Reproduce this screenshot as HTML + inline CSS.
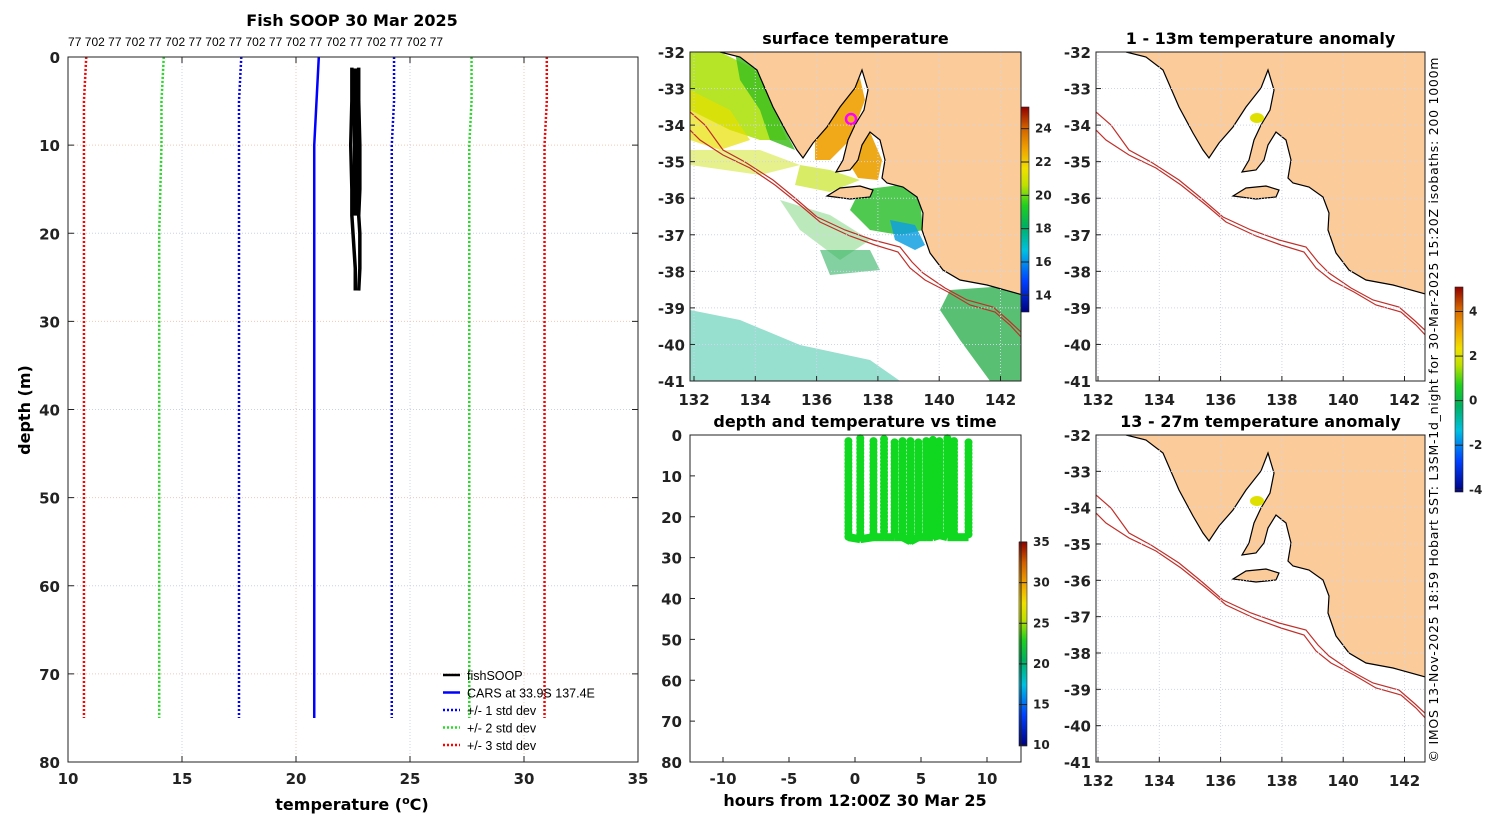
<!DOCTYPE html>
<html><head><meta charset="utf-8"><style>
html,body{margin:0;padding:0;background:#fff}
svg{display:block;font-family:"DejaVu Sans","Liberation Sans",sans-serif}
.t{font-weight:bold;font-size:15px;fill:#222}
.ti{font-weight:bold;font-size:16px;fill:#000}
</style></head><body>
<svg id="fig" width="1500" height="820" viewBox="0 0 1500 820" xmlns="http://www.w3.org/2000/svg">
<defs>
<linearGradient id="cmap" x1="0" y1="1" x2="0" y2="0">
<stop offset="0" stop-color="#00007f"/><stop offset="0.15" stop-color="#0040ff"/><stop offset="0.3" stop-color="#00c0e0"/>
<stop offset="0.42" stop-color="#00b060"/><stop offset="0.52" stop-color="#20d020"/><stop offset="0.62" stop-color="#c0e000"/>
<stop offset="0.7" stop-color="#f0e000"/><stop offset="0.8" stop-color="#f0a000"/><stop offset="0.9" stop-color="#d06000"/><stop offset="1" stop-color="#900000"/>
</linearGradient>
<clipPath id="c1"><rect x="690" y="52" width="331" height="329"/></clipPath>
<clipPath id="c2"><rect x="1096" y="52" width="329" height="329"/></clipPath>
<clipPath id="c3"><rect x="1096" y="435" width="329" height="327"/></clipPath>
<g id="land">
<path d="M720,52 L740,57 L757,70 L773,107 L787,133 L797,150 L803,158 L813,143 L827,127 L840,107 L855,88 L862,70 L868,90 L864,110 L855,125 L848,140 L843,160 L836,172 L850,170 L858,160 L862,145 L870,132 L880,140 L885,160 L882,178 L887,183 L903,187 L917,197 L923,213 L922,230 L930,253 L943,270 L960,280 L987,285 L1030,297 L1030,40 Z" fill="#fbcb9a" stroke="#000" stroke-width="1.2"/>
<path d="M827,196 L840,188 L860,186 L873,190 L870,197 L850,199 Z" fill="#fbcb9a" stroke="#000" stroke-width="1.2"/>
</g>
<g id="iso">
<polyline fill="none" stroke="#c0302a" stroke-width="1.2" points="690,112 705,125 723,150 745,162 773,180 795,198 817,217 845,230 873,240 900,247 912,262 923,273 945,288 967,300 993,307 1008,320 1022,333"/>
<polyline fill="none" stroke="#c0302a" stroke-width="1.2" points="690,130 700,140 723,155 750,168 775,185 800,205 820,222 850,236 875,245 898,252 910,268 925,280 948,292 970,305 995,312 1010,325 1022,338"/>
</g>
</defs>
<g id="root"></g>
</svg>
<script>
const NS="http://www.w3.org/2000/svg";
const root=document.getElementById('root');
function el(tag,attrs,parent,text){const e=document.createElementNS(NS,tag);for(const k in attrs)e.setAttribute(k,attrs[k]);if(text!==undefined)e.textContent=text;(parent||root).appendChild(e);return e;}

// ===== Left profile data =====
const profDepths=[0,5,10,20,30,40,50,60,70,75];
const carsTemp=[21.0,20.9,20.8,20.8,20.8,20.8,20.8,20.8,20.8,20.8];
const std1Lo=[17.6,17.5,17.5,17.5,17.5,17.5,17.5,17.5,17.5,17.5];
const std1Hi=[24.3,24.3,24.2,24.2,24.2,24.2,24.2,24.2,24.2,24.2];
const std2Lo=[14.2,14.1,14.1,14.0,14.0,14.0,14.0,14.0,14.0,14.0];
const std2Hi=[27.7,27.7,27.6,27.6,27.6,27.6,27.6,27.6,27.6,27.6];
const std3Lo=[10.8,10.7,10.7,10.7,10.7,10.7,10.7,10.7,10.7,10.7];
const std3Hi=[31.0,31.0,30.9,30.9,30.9,30.9,30.9,30.9,30.9,30.9];
const fishDepth=[1.2,5,10,15,18,20,22,24,26.5];
const fishTempA=[22.45,22.45,22.4,22.45,22.45,22.5,22.55,22.6,22.6];
const fishTempB=[22.75,22.75,22.8,22.8,22.75,22.8,22.8,22.8,22.75];
const xTicksL=[10,15,20,25,30,35];
const yTicksL=[0,10,20,30,40,50,60,70,80];

const LX0=68,LX1=638,LY0=57,LY1=762;
const lx=t=>LX0+(t-10)/25*(LX1-LX0);
const ly=d=>LY0+d/80*(LY1-LY0);
const gL=el('g',{});

el('rect',{x:LX0,y:LY0,width:LX1-LX0,height:LY1-LY0,fill:'#fff'},gL);
xTicksL.forEach((t,i)=>{if(i>0&&i<xTicksL.length-1)el('line',{x1:lx(t),x2:lx(t),y1:LY0,y2:LY1,stroke:i%2?'#c8d0f0':'#f0c8b8','stroke-dasharray':'1,2','stroke-width':1},gL);
 const tx=el('text',{x:lx(t),y:LY1+22,class:'t','text-anchor':'middle'},gL,t);
 el('line',{x1:lx(t),x2:lx(t),y1:LY1,y2:LY1-6,stroke:'#222'},gL);el('line',{x1:lx(t),x2:lx(t),y1:LY0,y2:LY0+6,stroke:'#222'},gL);});
yTicksL.forEach((d,i)=>{if(i>0&&i<yTicksL.length-1)el('line',{x1:LX0,x2:LX1,y1:ly(d),y2:ly(d),stroke:i%2?'#f0c8b8':'#c8d0f0','stroke-dasharray':'1,2'},gL);
 const tx=el('text',{x:LX0-8,y:ly(d)+6,class:'t','text-anchor':'end'},gL,d);
 el('line',{x1:LX0,x2:LX0+6,y1:ly(d),y2:ly(d),stroke:'#222'},gL);el('line',{x1:LX1,x2:LX1-6,y1:ly(d),y2:ly(d),stroke:'#222'},gL);});
function line(arrT,arrD,attrs,name){const p=el('polyline',Object.assign({fill:'none',points:arrT.map((t,i)=>lx(t)+','+ly(arrD[i])).join(' ')},attrs),gL);}
line(std3Lo,profDepths,{stroke:'#f00','stroke-width':2.5,'stroke-dasharray':'2,2'},'std3-low-line');
line(std3Hi,profDepths,{stroke:'#f00','stroke-width':2.5,'stroke-dasharray':'2,2'},'std3-high-line');
line(std2Lo,profDepths,{stroke:'#2d2','stroke-width':2.5,'stroke-dasharray':'2,2'},'std2-low-line');
line(std2Hi,profDepths,{stroke:'#2d2','stroke-width':2.5,'stroke-dasharray':'2,2'},'std2-high-line');
line(std1Lo,profDepths,{stroke:'#00f','stroke-width':2.5,'stroke-dasharray':'2,2'},'std1-low-line');
line(std1Hi,profDepths,{stroke:'#00f','stroke-width':2.5,'stroke-dasharray':'2,2'},'std1-high-line');
line(carsTemp,profDepths,{stroke:'#00f','stroke-width':2.5},'cars-line');
line(fishTempA,fishDepth,{stroke:'#000','stroke-width':3.5},'fishsoop-line-a');
line(fishTempB,fishDepth,{stroke:'#000','stroke-width':3.5},'fishsoop-line-b');
el('rect',{x:lx(22.5),y:ly(1.3),width:lx(22.8)-lx(22.5),height:ly(18)-ly(1.3),fill:'#000'},gL);
el('rect',{x:LX0,y:LY0,width:LX1-LX0,height:LY1-LY0,fill:'none',stroke:'#222'},gL);
const tL=el('text',{x:352,y:26,class:'ti','text-anchor':'middle'},gL,'Fish SOOP 30 Mar 2025');
const topLab=el('text',{x:68,y:46,'font-size':'12','textLength':'375','font-family':'Liberation Sans, sans-serif',fill:'#000'},gL,'77 702 77 702 77 702 77 702 77 702 77 702 77 702 77 702 77 702 77');
const xl=el('text',{x:352,y:810,class:'ti','text-anchor':'middle'},gL);
xl.innerHTML='temperature (<tspan dy="-6" font-size="11">o</tspan><tspan dy="6">C)</tspan>';
const yl=el('text',{x:30,y:410,class:'ti','text-anchor':'middle',transform:'rotate(-90 30 410)'},gL,'depth (m)');
// legend
const legNames=['fishSOOP','CARS at 33.9S 137.4E','+/- 1 std dev','+/- 2 std dev','+/- 3 std dev'];
const legCols=['#000','#00f','#00f','#2d2','#f00'];
const legDash=['','', '2,2','2,2','2,2'];
legNames.forEach((n,i)=>{const g=el('g',{},gL);
 const y=675+i*17.5;el('line',{x1:443,x2:460,y1:y,y2:y,stroke:legCols[i],'stroke-width':2.5,'stroke-dasharray':legDash[i]},g);
 el('text',{x:467,y:y+5,'font-size':'12.5','font-family':'Liberation Sans, sans-serif'},g,n);});

// ===== Maps =====
const lonTicks=[132,134,136,138,140,142];
const latTicks=[-32,-33,-34,-35,-36,-37,-38,-39,-40,-41];
function mapAxes(x0,y0,w,h,lon0px,title,name){
  const g=el('g',{});
  const mx=lon=>lon0px+(lon-132)*30.65;const my=lat=>y0+(-32-lat)*(h/9);
  return {g,mx,my,x0,y0,w,h,title};
}
function mapFrame(m){
  const {g,mx,my,x0,y0,w,h}=m;
  lonTicks.forEach(l=>{el('line',{x1:mx(l),x2:mx(l),y1:y0,y2:y0+h,stroke:'#d0d4ec','stroke-dasharray':'1,2'},g);
   el('line',{x1:mx(l),x2:mx(l),y1:y0+h,y2:y0+h-5,stroke:'#222'},g);
   const t=el('text',{x:mx(l),y:y0+h+24,class:'t','text-anchor':'middle'},g,l);});
  latTicks.forEach(l=>{el('line',{x1:x0,x2:x0+w,y1:my(l),y2:my(l),stroke:'#d0d4ec','stroke-dasharray':'1,2'},g);
   el('line',{x1:x0,x2:x0+5,y1:my(l),y2:my(l),stroke:'#222'},g);
   const t=el('text',{x:x0-5,y:my(l)+6,class:'t','text-anchor':'end'},g,l);});
  const tt=el('text',{x:x0+w/2,y:y0-8,class:'ti','text-anchor':'middle'},g,m.title);
  el('rect',{x:x0,y:y0,width:w,height:h,fill:'none',stroke:'#222'},g);
}
// surface temperature map
const m1=mapAxes(690,52,331,329,694,'surface temperature','surface-temperature-map');
const cg=el('g',{'clip-path':'url(#c1)'},m1.g);
const patches=[
 ['#a8e000',0.85,'M690,52 L720,52 L757,70 L773,107 L787,140 L760,140 L730,130 L690,110 Z'],
 ['#40c020',0.85,'M735,52 L757,70 L780,120 L795,150 L770,140 L760,110 L740,80 Z'],
 ['#e8e000',0.7,'M690,90 L730,110 L750,140 L720,150 L690,140 Z'],
 ['#c8e000',0.45,'M690,150 L760,150 L800,165 L760,175 L690,165 Z'],
 ['#f0a000',0.9,'M815,140 L840,107 L860,78 L865,100 L850,140 L830,160 L815,160 Z'],
 ['#eca000',0.9,'M855,140 L870,132 L882,160 L878,180 L858,178 L850,165 Z'],
 ['#c0e000',0.6,'M800,165 L830,170 L860,180 L830,192 L795,185 Z'],
 ['#30c030',0.85,'M860,190 L900,185 L920,200 L923,230 L900,235 L870,230 L850,210 Z'],
 ['#10a0e0',0.85,'M890,220 L915,225 L925,245 L915,250 L895,240 Z'],
 ['#40c040',0.35,'M780,200 L830,215 L870,240 L840,260 L800,230 Z'],
 ['#30b050',0.8,'M950,290 L1021,285 L1021,381 L990,381 L960,340 L940,310 Z'],
 ['#30b060',0.6,'M820,250 L870,250 L880,270 L830,275 Z'],
 ['#30c0a0',0.5,'M690,310 L740,320 L800,345 L870,360 L900,381 L690,381 Z'],
];
patches.forEach(([c,o,d])=>{const p=el('path',{d,fill:c,opacity:o},cg);});
el('use',{href:'#land'},cg);el('use',{href:'#iso'},cg);
const mk=el('circle',{cx:851,cy:119,r:5,fill:'none',stroke:'#f0f','stroke-width':2.5},cg);
mapFrame(m1);
// anomaly maps
function anomMap(dx,dy,title,clip,name,y0,h){
  const m=mapAxes(1096,y0,329,h,1098,title,name);
  const g=el('g',{'clip-path':'url(#'+clip+')'},m.g);
  el('use',{href:'#land',transform:`translate(${dx},${dy})`},g);el('use',{href:'#iso',transform:`translate(${dx},${dy})`},g);
  const b=el('ellipse',{cx:851+dx,cy:119+dy-1,rx:7,ry:5,fill:'#e0e000'},g);
  mapFrame(m);
}
anomMap(406,0,'1 - 13m temperature anomaly','c2','anomaly-map-1-13m',52,329);
anomMap(406,383,'13 - 27m temperature anomaly','c3','anomaly-map-13-27m',435,327);

// colorbars
function cbar(x,y0,y1,ticks,v0,v1,name){
  const g=el('g',{});
  el('rect',{x,y:y0,width:8,height:y1-y0,fill:'url(#cmap)',stroke:'#222','stroke-width':0.6},g);
  ticks.forEach(t=>{const y=y1-(t-v0)/(v1-v0)*(y1-y0);el('line',{x1:x,x2:x+8,y1:y,y2:y,stroke:'#222'},g);
   const tx=el('text',{x:x+14,y:y+4,'font-size':'12','font-weight':'bold',fill:'#222'},g,t);});
}
cbar(1021,107,312,[14,16,18,20,22,24],13,25.3,'sst-colorbar');
cbar(1455,287,492,[-4,-2,0,2,4],-4.1,5.1,'anomaly-colorbar');
cbar(1019,542,746,[10,15,20,25,30,35],9.9,35,'depth-time-colorbar');

// ===== depth vs time =====
const diveHours=[-0.5,0.4,1.4,2.2,3.0,3.6,4.2,4.8,5.4,5.9,6.4,7.0,7.5,8.6];
const diveMaxDepth=[25,25.5,25,25,25,25,26,25,25,25,24.5,25,25,25];
const diveMinDepth=[1.5,0.8,1.5,1.0,1.8,1.5,1.5,1.8,1.5,1.2,1.5,0.8,1.5,1.8];
const hTicks=[-10,-5,0,5,10];
const dTicks=[0,10,20,30,40,50,60,70,80];
const MX0=690,MX1=1021,MY0=435,MY1=762;
const hx=hr=>855+hr*13.2;const dy2=d=>MY0+d/80*(MY1-MY0);
const gM=el('g',{});
hTicks.forEach(t=>{el('line',{x1:hx(t),x2:hx(t),y1:MY1,y2:MY1-5,stroke:'#222'},gM);
 const tx=el('text',{x:hx(t),y:MY1+22,class:'t','text-anchor':'middle'},gM,t);});
dTicks.forEach(d=>{el('line',{x1:MX0,x2:MX0+5,y1:dy2(d),y2:dy2(d),stroke:'#222'},gM);
 const tx=el('text',{x:MX0-8,y:dy2(d)+6,class:'t','text-anchor':'end'},gM,d);});
diveHours.forEach((h,i)=>{for(let d=diveMinDepth[i];d<=diveMaxDepth[i];d+=0.9){
 const c=el('circle',{cx:hx(h),cy:dy2(d),r:4,fill:'#10d820'},gM);}
 if(i<diveHours.length-1){el('line',{x1:hx(h),x2:hx(diveHours[i+1]),y1:dy2(diveMaxDepth[i]),y2:dy2(diveMaxDepth[i+1]),stroke:'#10d820','stroke-width':8},gM);}});
el('rect',{x:MX0,y:MY0,width:MX1-MX0,height:MY1-MY0,fill:'none',stroke:'#222'},gM);
const tM=el('text',{x:855,y:427,class:'ti','text-anchor':'middle'},gM,'depth and temperature vs time');
const xM=el('text',{x:855,y:806,class:'ti','text-anchor':'middle'},gM,'hours from 12:00Z 30 Mar 25');

const cr=el('text',{x:1438,y:410,'font-size':'12.5','text-anchor':'middle','textLength':'705',fill:'#000',transform:'rotate(-90 1438 410)'},root,'© IMOS 13-Nov-2025 18:59 Hobart SST: L3SM-1d_night for 30-Mar-2025 15:20Z isobaths: 200  1000m');


</script>
</body></html>
